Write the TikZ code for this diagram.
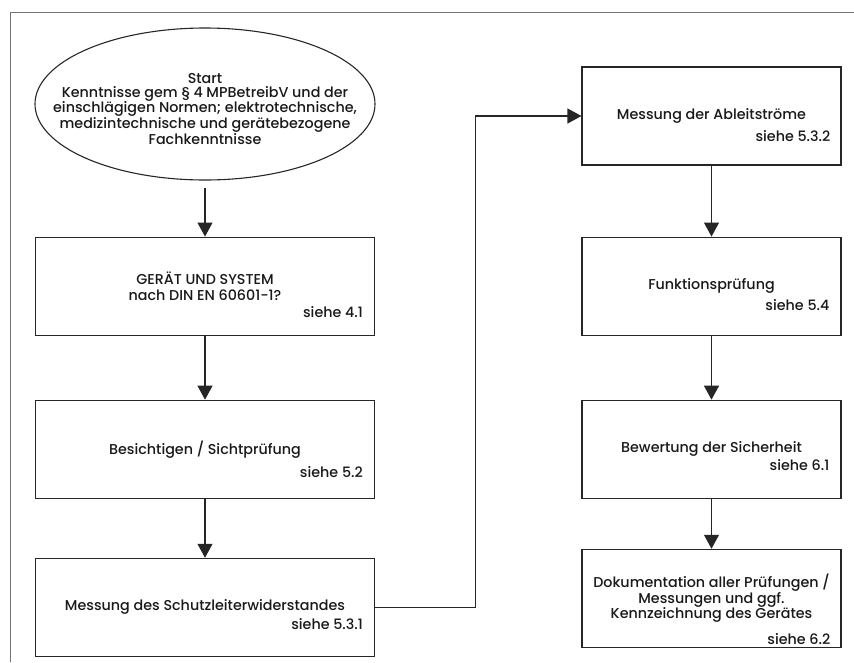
\documentclass[tikz,border=0pt]{standalone}
\usepackage{fontspec}
\setmainfont{Poppins Medium}
\usepackage{tikz}
\usetikzlibrary{arrows.meta,positioning,shapes.geometric}
\tikzset{
  pbox/.style={draw=black!85, line width=1.1pt, minimum width=339pt, minimum height=98pt,
               inner sep=0pt, align=center, text=black!90, font=\fontsize{14.3}{15.8}\selectfont},
  rbox/.style={pbox, minimum width=259pt},
  startnode/.style={draw=black!85, line width=1.1pt, ellipse, minimum width=340pt,
               minimum height=152pt, inner sep=0pt},
  starttext/.style={align=center, inner sep=0pt, text=black!90, font=\fontsize{14.3}{13.8}\selectfont},
  ref/.style={anchor=base east, inner sep=0pt, text=black!90, font=\fontsize{14.3}{15.8}\selectfont},
  flow/.style={-{Triangle[length=14pt, width=15pt]}, line width=1.1pt, draw=black!85},
  frame/.style={draw=black!55, line width=1pt},
}

\begin{document}
\begin{tikzpicture}[x=1pt, y=-1pt]
  \useasboundingbox (0,0) rectangle (854,662);
  \draw[frame] (10,662) -- (10,12) -- (854,12);
  % linke Spalte
  \node[startnode] (start) at (205,104) {};
  \node[starttext] (startlbl) at ([yshift=-5pt]start.center) {Start\\Kenntnisse gem § 4 MPBetreibV und der\\einschlägigen Normen; elektrotechnische,\\medizintechnische und gerätebezogene\\Fachkenntnisse};
  \node[pbox, below=56pt of start] (b1) {GERÄT UND SYSTEM\\nach DIN EN 60601-1?};
  \node[pbox, below=64pt of b1] (b2) {Besichtigen / Sichtprüfung};
  \node[pbox, below=59pt of b2] (b3) {Messung des Schutzleiterwiderstandes};
  % rechte Spalte
  \node[rbox] (r1) at (711.5,116) {Messung der Ableitströme};
  \node[rbox, below=71pt of r1] (r2) {Funktionsprüfung};
  \node[rbox, below=64pt of r2] (r3) {Bewertung der Sicherheit};
  \node[rbox, below=50pt of r3] (r4) {Dokumentation aller Prüfungen /\\Messungen und ggf.\\Kennzeichnung des Gerätes};
  % Verweise
  \node[ref] (s1) at ([xshift=-12pt, yshift=-31pt]b1.east) {siehe 4.1};
  \node[ref] (s2) at ([xshift=-12pt, yshift=-28pt]b2.east) {siehe 5.2};
  \node[ref] (s3) at ([xshift=-12pt, yshift=-22pt]b3.east) {siehe 5.3.1};
  \node[ref] (s4) at ([xshift=-11pt, yshift=-25pt]r1.east) {siehe 5.3.2};
  \node[ref] (s5) at ([xshift=-12pt, yshift=-24pt]r2.east) {siehe 5.4};
  \node[ref] (s6) at ([xshift=-12pt, yshift=-21pt]r3.east) {siehe 6.1};
  \node[ref] (s7) at ([xshift=-11pt, yshift=-46pt]r4.east) {siehe 6.2};
  \coordinate (knick) at ([xshift=-106pt]r1.west);
  \draw[flow, shorten <=7pt] (start.south -| b1.north) -- (b1);
  \draw[flow] (b1) -- (b2);
  \draw[flow] (b2) -- (b3);
  \draw[flow] (b3.east) -| (knick) -- (r1.west);
  \draw[flow] (r1) -- (r2);
  \draw[flow] (r2) -- (r3);
  \draw[flow] (r3) -- (r4);
\end{tikzpicture}
\end{document}
